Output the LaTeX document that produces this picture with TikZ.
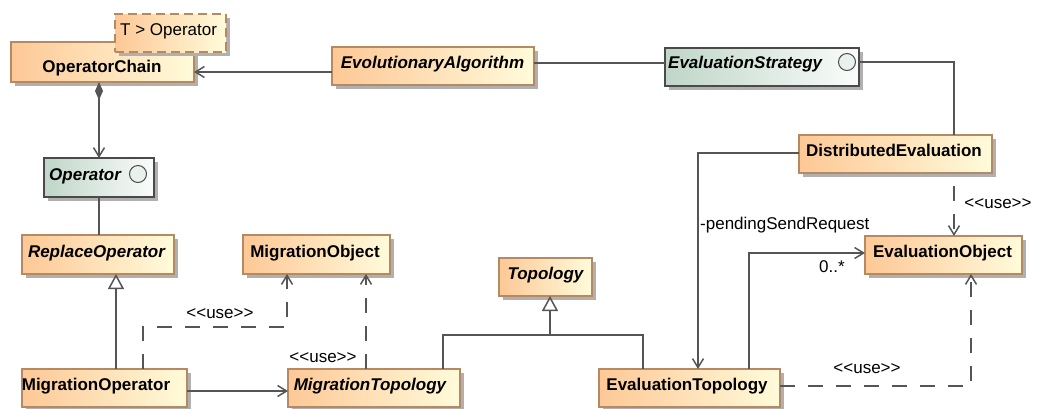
\documentclass[tikz,border=0pt]{standalone}
\usepackage{fontspec}
\setmainfont{Liberation Sans}
\usetikzlibrary{arrows.meta,shadows,calc}

\definecolor{clsL}{HTML}{FDC896}
\definecolor{clsR}{HTML}{FFFBDA}
\definecolor{clsB}{HTML}{B58A63}
\definecolor{ifcL}{HTML}{BFD6C8}
\definecolor{ifcR}{HTML}{FAFCFB}
\definecolor{ifcB}{HTML}{4A4A4A}
\definecolor{wire}{HTML}{555555}
\definecolor{shadowgray}{HTML}{B0B0B0}

% stereotype text, kerns keep << and >> from turning into guillemets
\newcommand\stereo[1]{<\kern0pt<#1>\kern0pt>}

\tikzset{
  x=1pt, y=-1pt,
  box/.style={draw, line width=1.2pt, inner sep=0pt, outer sep=0pt,
    drop shadow={shadow xshift=4pt, shadow yshift=-4pt, fill=shadowgray, opacity=1}},
  cls/.style={box, draw=clsB, left color=clsL, right color=clsR},
  ifc/.style={box, draw=ifcB, left color=ifcL, right color=ifcR},
  tnote/.style={cls, dash pattern=on 9pt off 5pt},
  nm/.style={font=\fontsize{17}{20}\selectfont\bfseries, inner sep=0pt, anchor=mid, yshift=-3.5pt},
  nmi/.style={nm, font=\fontsize{17}{20}\selectfont\bfseries\itshape},
  lbl/.style={font=\fontsize{17}{20}\selectfont, inner sep=0pt, anchor=mid, yshift=-3pt},
  ball/.style={circle, draw=ifcB, line width=1pt, fill=ifcL!35, minimum size=17pt, inner sep=0pt},
  wire/.style={draw=wire, line width=1.5pt},
  assoc/.style={wire, -{Straight Barb[length=9pt,width=11pt]}},
  dep/.style={assoc, dash pattern=on 15pt off 13pt},
  gen/.style={wire, -{Triangle[length=15pt,width=16pt,fill=white]}},
  compo/.style={wire, {Diamond[length=18pt,width=8pt]}-{Straight Barb[length=9pt,width=11pt]}},
}

\begin{document}
\begin{tikzpicture}
\useasboundingbox (0,0) rectangle (1037,408);

% classes and interfaces
\node[cls, minimum width=183pt, minimum height=40pt] (oc) at (102.5,62) {};
\node[nm] (oct) at (102,66) {OperatorChain};
\node[tnote, minimum width=111pt, minimum height=38pt] (tp) at (170.5,33) {};
\node[lbl, anchor=mid west] (tpt) at (120,30) {T > Operator};

\node[cls, minimum width=202pt, minimum height=38pt] (ea) at (433,66) {};
\node[nmi] (eat) at (432.5,62) {EvolutionaryAlgorithm};

\node[ifc, minimum width=194pt, minimum height=38pt] (es) at (762,67) {};
\node[nmi, anchor=mid west] (est) at (668,62) {EvaluationStrategy};
\node[ball] (esb) at (847,62) {};

\node[cls, minimum width=193pt, minimum height=38pt] (de) at (895.5,154) {};
\node[nm] (det) at (894,150) {DistributedEvaluation};

\node[ifc, minimum width=110pt, minimum height=39pt] (op) at (99,177.5) {};
\node[nmi, anchor=mid west] (opt) at (49,174) {Operator};
\node[ball] (opb) at (138,174) {};

\node[cls, minimum width=152pt, minimum height=39pt] (ro) at (98,254.5) {};
\node[nmi] (rot) at (96.5,251) {ReplaceOperator};

\node[cls, minimum width=147pt, minimum height=39pt] (mobj) at (316.5,254.5) {};
\node[nm] (mobjt) at (315,251) {MigrationObject};

\node[cls, minimum width=93pt, minimum height=38pt] (top) at (545.5,277) {};
\node[nmi] (topt) at (545.5,273) {Topology};

\node[cls, minimum width=157pt, minimum height=38pt] (eo) at (943.5,255) {};
\node[nm] (eot) at (942.5,251) {EvaluationObject};

\node[cls, minimum width=165pt, minimum height=38pt] (mo) at (104.5,388) {};
\node[nm] (mot) at (96,384) {MigrationOperator};

\node[cls, minimum width=172pt, minimum height=38pt] (mt) at (374,388) {};
\node[nmi] (mtt) at (370,384) {MigrationTopology};

\node[cls, minimum width=181pt, minimum height=38pt] (et) at (689.5,388) {};
\node[nm] (ett) at (687,384) {EvaluationTopology};

% associations
\draw[assoc] ([yshift=-6pt]ea.west) -- ([yshift=-6pt]ea.west -| oc.east);
\draw[compo] (op.north |- oc.south) -- (op.north);
\draw[wire] ([yshift=3pt]ea.east) -- ([yshift=3pt]ea.east -| es.west);
\draw[wire] ([yshift=5pt]es.east) -| ([xshift=58.5pt]de.north);
\draw[wire] (op.south) -- (op.south |- ro.north);
\draw[assoc] ([yshift=-3pt]mo.east) -- ([yshift=-3pt]mo.east -| mt.west);
\draw[assoc] ([yshift=1pt]de.west) -| ([xshift=8.5pt]et.north);
\draw[assoc] ([xshift=59.5pt]et.north) |- ([yshift=2pt]eo.west);

% generalizations
\draw[gen] ([xshift=11.5pt]mo.north) -- ([xshift=11.5pt]mo.north |- ro.south);
\coordinate (tj) at (550,335);
\draw[gen] (tj) -- ([xshift=4.5pt]top.south);
\draw[wire] ([xshift=69pt]mt.north) |- (tj);
\draw[wire] ([xshift=-46.5pt]et.north) |- (tj);

% usage dependencies
\draw[dep] ([xshift=38.5pt]mo.north) -- ++(0,-42) -| ([xshift=-29.5pt]mobj.south);
\draw[dep] ([xshift=-8pt]mt.north) -- ([xshift=-8pt]mt.north |- mobj.south);
\draw[dep, dash phase=15pt] ([xshift=58.5pt]de.south) -- ([xshift=58.5pt]de.south |- eo.north);
\draw[dep] ([yshift=2pt]et.east) -| ([xshift=27.5pt]eo.south);

% connector labels
\node[lbl] (u1) at (220,313) {\stereo{use}};
\node[lbl] (u2) at (323,357) {\stereo{use}};
\node[lbl] (u3) at (998,203) {\stereo{use}};
\node[lbl] (u4) at (867,368) {\stereo{use}};
\node[lbl, anchor=mid west] (psr) at (700,224) {-pendingSendRequest};
\node[lbl] (mult) at (832,267) {0..*};
\end{tikzpicture}
\end{document}
